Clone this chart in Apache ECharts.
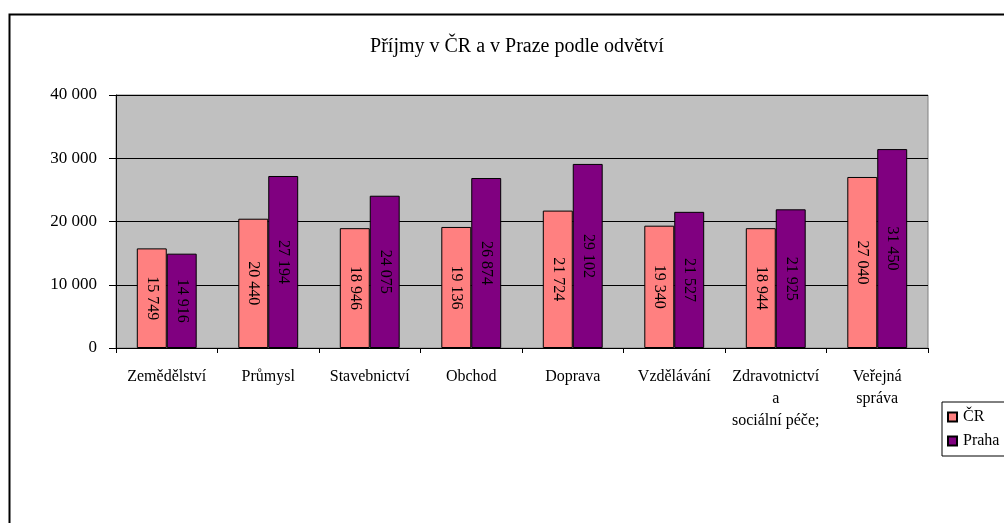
<!DOCTYPE html>
<html>
<head>
<meta charset="utf-8">
<script src="https://cdn.jsdelivr.net/npm/echarts@6/dist/echarts.min.js"></script>
<style>
html, body { margin: 0; padding: 0; background: #fff; }
#main { width: 1004px; height: 523px; }
</style>
</head>
<body>
<div id="main"></div>
<script>
var categories = ['Zemědělství', 'Průmysl', 'Stavebnictví', 'Obchod', 'Doprava', 'Vzdělávání', 'Zdravotnictví\na\nsociální péče;', 'Veřejná\nspráva'];
var crData = [15749, 20440, 18946, 19136, 21724, 19340, 18944, 27040];
var prahaData = [14916, 27194, 24075, 26874, 29102, 21527, 21925, 31450];
var yTicks = [0, 10000, 20000, 30000, 40000];

var myChart = echarts.init(document.getElementById('main'));

// mezery jako oddělovač tisíců
function fmt(v) {
    return String(v).replace(/\B(?=(\d{3})+(?!\d))/g, ' ');
}

var font = "'Liberation Serif', 'Times New Roman', serif";

var option = {
    backgroundColor: '#fff',
    textStyle: { fontFamily: font, color: '#000' },
    graphic: [{
        type: 'rect',
        left: 7, top: 12,
        shape: { width: 1010, height: 530 },
        style: { fill: 'none', stroke: '#000', lineWidth: 2 },
        silent: true
    }],
    title: {
        text: 'Příjmy v ČR a v Praze podle odvětví',
        left: 512, top: 32, textAlign: 'center',
        textStyle: { fontFamily: font, fontSize: 20, fontWeight: 'normal', color: '#000' }
    },
    legend: {
        orient: 'vertical',
        left: 942, top: 402,
        itemWidth: 9, itemHeight: 9, itemGap: 8,
        padding: [7, 20, 7, 5],
        borderColor: '#000', borderWidth: 1,
        icon: 'rect',
        textStyle: { fontFamily: font, fontSize: 16, color: '#000', padding: [0, 0, 0, 1] },
        data: ['ČR', 'Praha']
    },
    grid: {
        left: 116, right: 76, top: 95, bottom: 175,
        show: true, backgroundColor: '#C0C0C0', borderColor: '#808080', borderWidth: 1
    },
    xAxis: {
        type: 'category',
        data: categories,
        axisLine: { lineStyle: { color: '#000' } },
        axisTick: { show: true, length: 5, lineStyle: { color: '#000' } },
        axisLabel: { fontFamily: font, fontSize: 16, color: '#000', margin: 18, lineHeight: 22, interval: 0 }
    },
    yAxis: {
        type: 'value',
        min: yTicks[0], max: yTicks[yTicks.length - 1], interval: 10000,
        axisLine: { show: true, lineStyle: { color: '#000' } },
        axisTick: { show: true, length: 7, lineStyle: { color: '#000' } },
        axisLabel: { fontFamily: font, fontSize: 17, color: '#000', margin: 19, formatter: fmt },
        splitLine: { show: true, lineStyle: { color: '#000', width: 1 } }
    },
    series: [
        {
            name: 'ČR', type: 'bar', data: crData,
            barGap: '0%', barCategoryGap: '41%',
            itemStyle: { color: '#FF8080', borderColor: '#000', borderWidth: 1 },
            label: {
                show: true, position: 'inside', rotate: -90,
                fontFamily: font, fontSize: 16, color: '#000',
                formatter: function (p) { return fmt(p.value); }
            }
        },
        {
            name: 'Praha', type: 'bar', data: prahaData,
            itemStyle: { color: '#800080', borderColor: '#000', borderWidth: 1 },
            label: {
                show: true, position: 'inside', rotate: -90,
                fontFamily: font, fontSize: 16, color: '#000',
                formatter: function (p) { return fmt(p.value); }
            }
        }
    ]
};

myChart.setOption(option);
</script>
</body>
</html>
